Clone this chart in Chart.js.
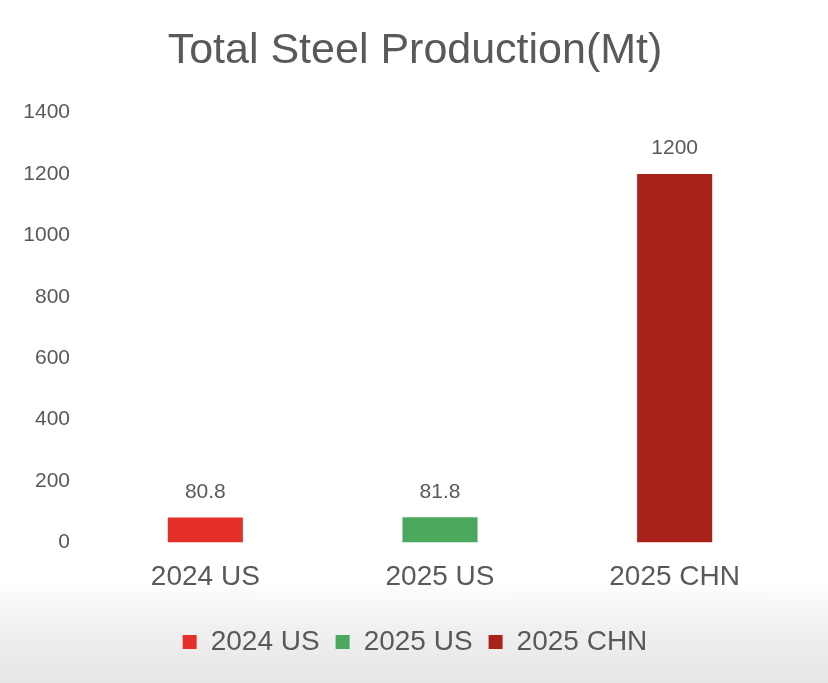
<!DOCTYPE html>
<html>
<head>
<meta charset="utf-8">
<script src="https://cdn.jsdelivr.net/npm/chart.js@4.4.1/dist/chart.umd.min.js"></script>
<style>
    html, body {
        margin: 0;
        padding: 0;
        width: 828px;
        height: 683px;
        overflow: hidden;
        background: linear-gradient(to bottom, #ffffff 0%, #ffffff 85%, #f0f0f0 92%, #e6e6e6 100%);
    }
    #wrap {
        width: 828px;
        height: 683px;
    }
</style>
</head>
<body>
<div id="wrap"><canvas id="steelChart"></canvas></div>
<script>
// chart data
var categories = ['2024 US', '2025 US', '2025 CHN'];
var production = [80.8, 81.8, 1200];
var barColors = ['#e5302a', '#4aa95c', '#a8221b'];
var yTicks = [0, 200, 400, 600, 800, 1000, 1200, 1400];

var textGray = '#595959';
var fontName = '"Liberation Sans", Arial, sans-serif';

// one dataset per bar so the legend lists each of them
var datasets = categories.map(function (cat, i) {
    return {
        label: cat,
        data: categories.map(function (c, j) { return j === i ? production[i] : null; }),
        backgroundColor: barColors[i],
        borderWidth: 0
    };
});

// value labels above bars
var valueLabels = {
    id: 'valueLabels',
    afterDatasetsDraw: function (chart) {
        var ctx = chart.ctx;
        ctx.save();
        ctx.font = '21px ' + fontName;
        ctx.fillStyle = textGray;
        ctx.textAlign = 'center';
        ctx.textBaseline = 'bottom';
        chart.data.datasets.forEach(function (ds, i) {
            var meta = chart.getDatasetMeta(i);
            meta.data.forEach(function (bar, j) {
                if (ds.data[j] === null) return;
                ctx.fillText(String(ds.data[j]), bar.x, bar.y - 15);
            });
        });
        ctx.restore();
    }
};

var ctx = document.getElementById('steelChart').getContext('2d');
var steelChart = new Chart(ctx, {
    type: 'bar',
    data: {
        labels: categories,
        datasets: datasets
    },
    plugins: [valueLabels],
    options: {
        responsive: true,
        maintainAspectRatio: false,
        animation: false,
        layout: {
            padding: { left: 21, right: 19, top: 0, bottom: 17 }
        },
        datasets: {
            bar: {
                grouped: false,
                skipNull: true,
                categoryPercentage: 1.0,
                barPercentage: 0.32
            }
        },
        scales: {
            x: {
                grid: { display: false, drawTicks: false },
                border: { display: false },
                ticks: {
                    color: textGray,
                    padding: 18,
                    font: { family: fontName, size: 28 }
                }
            },
            y: {
                min: 0,
                max: 1400,
                grid: { display: false, drawTicks: false },
                border: { display: false },
                afterBuildTicks: function (axis) {
                    axis.ticks = yTicks.map(function (v) { return { value: v }; });
                },
                afterFit: function (axis) {
                    axis.width = 67;
                },
                ticks: {
                    color: textGray,
                    padding: 18,
                    font: { family: fontName, size: 21 },
                    callback: function (value) { return String(value); }
                }
            },
            // empty spacer on the right so the plot sits where it does in the original
            yRight: {
                position: 'right',
                min: 0,
                max: 1400,
                grid: { display: false, drawTicks: false },
                border: { display: false },
                ticks: { display: false },
                afterFit: function (axis) {
                    axis.width = 17;
                }
            }
        },
        plugins: {
            title: {
                display: true,
                text: 'Total Steel Production(Mt)',
                color: textGray,
                padding: { top: 25, bottom: 36 },
                font: { family: fontName, size: 43, weight: 'normal' }
            },
            legend: {
                position: 'bottom',
                labels: {
                    color: textGray,
                    boxWidth: 14,
                    boxHeight: 14,
                    padding: 16,
                    font: { family: fontName, size: 28 }
                }
            },
            tooltip: { enabled: false }
        }
    }
});
</script>
</body>
</html>
